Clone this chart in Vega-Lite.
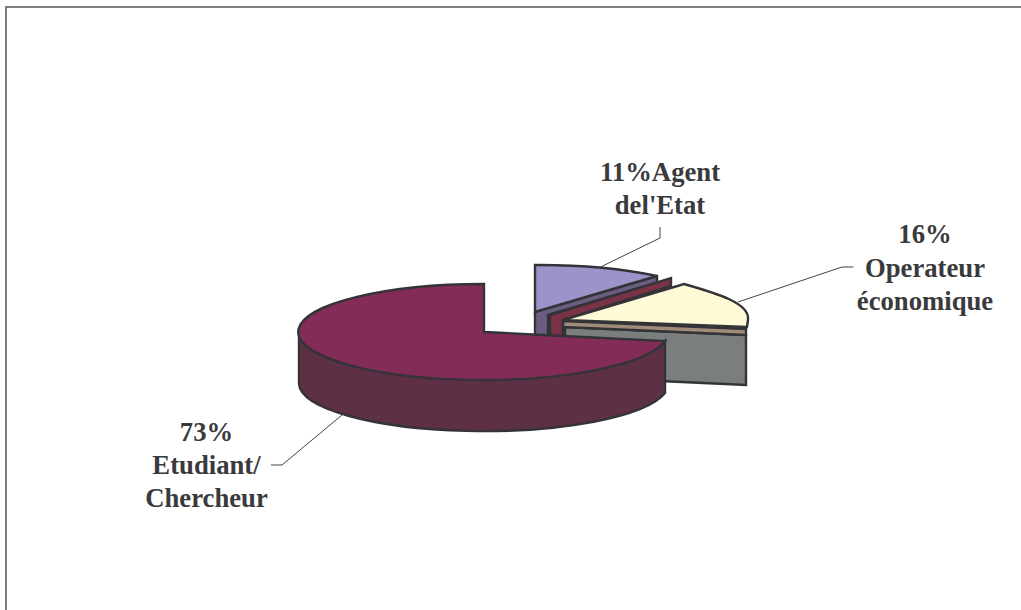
{
"$schema":"https://vega.github.io/schema/vega-lite/v6.json",
"width":1021,"height":610,"padding":0,
"autosize":"none",
"background":"white",
"config":{"view":{"stroke":null}},
"data":{"values":[
{"category":"Agent de l'Etat","share":11,"label":"11%Agent\ndel'Etat"},
{"category":"Operateur économique","share":16,"label":"16%\nOperateur\néconomique"},
{"category":"Etudiant/Chercheur","share":73,"label":"73%\nEtudiant/\nChercheur"}
]},
"resolve":{"scale":{"shape":"independent","color":"independent"}},
"layer":[
{"data":{"values":[{"part":"frame"}]},
 "mark":{"type":"point","filled":false,"opacity":1,"size":4,"stroke":"#555558","strokeWidth":1.5,"shape":"M 510.5 -298 L -504.5 -298 L -504.5 305"},
 "encoding":{}},
{"mark":{"type":"point","filled":true,"opacity":1,"size":4,"stroke":"#333338","strokeWidth":2.4},
 "encoding":{
  "shape":{"field":"category","type":"nominal","legend":null,"scale":{"domain":["Agent de l'Etat","Operateur économique","Etudiant/Chercheur"],"range":[
   "M 24.5 7 L 146.5 -29 L 146.5 -22 L 37.5 10 L 37.5 31 L 24.5 31 Z",
   "M 54.5 22 L 235.5 30 L 235.5 80 L 149.5 76 L 54.5 76 Z",
   "M -211.5 27 A 185 48 0 0 0 154.5 36 L 154.5 88 A 185 48 0 0 1 -211.5 79 Z"]}},
  "color":{"field":"category","type":"nominal","legend":null,"scale":{"domain":["Agent de l'Etat","Operateur économique","Etudiant/Chercheur"],"range":["#6a5e80","#7a7f7e","#5e3045"]}}
 }},
{"transform":[{"filter":"datum.share != 11"}],
 "mark":{"type":"point","filled":true,"opacity":1,"size":4,"stroke":"#333338","strokeWidth":2.4},
 "encoding":{
  "shape":{"field":"category","type":"nominal","legend":null,"scale":{"domain":["Operateur économique","Etudiant/Chercheur"],"range":[
   "M 52.5 16 L 235.5 24 L 235.5 30 L 52.5 22 Z",
   "M 39.5 10 L 160.5 -27 L 160.5 -19 L 52.5 15 L 52.5 31 L 39.5 31 Z"]}},
  "color":{"field":"category","type":"nominal","legend":null,"scale":{"domain":["Operateur économique","Etudiant/Chercheur"],"range":["#a08c78","#7a3346"]}}
 }},
{"mark":{"type":"point","filled":true,"opacity":1,"size":4,"stroke":"#333338","strokeWidth":2.4},
 "encoding":{
  "shape":{"field":"category","type":"nominal","legend":null,"scale":{"domain":["Agent de l'Etat","Operateur économique","Etudiant/Chercheur"],"range":[
   "M 24.5 -40 A 185 48 0 0 1 146.5 -29 L 24.5 7 Z",
   "M 52.5 15 L 173.5 -21 C 205 -12 240 -2 237.5 15 L 236.5 22 Z",
   "M -26.5 27 L -26.5 -21 A 185 48 0 1 0 154.5 36 Z"]}},
  "color":{"field":"category","type":"nominal","legend":null,"scale":{"domain":["Agent de l'Etat","Operateur économique","Etudiant/Chercheur"],"range":["#9b93c9","#fffbd6","#832c57"]}}
 }},
{"mark":{"type":"point","filled":false,"opacity":1,"size":4,"stroke":"#444448","strokeWidth":1},
 "encoding":{
  "shape":{"field":"category","type":"nominal","legend":null,"scale":{"domain":["Agent de l'Etat","Operateur économique","Etudiant/Chercheur"],"range":[
   "M 90 -38 L 149.5 -67 L 149.5 -78",
   "M 227.5 -3 L 331.5 -38 L 343 -38",
   "M -168.5 110 L -228.5 160 L -239.5 160"]}}
 }},
{"transform":[{"filter":"datum.share == 11"}],
 "mark":{"type":"text","font":"Liberation Serif","fontWeight":"bold","fontSize":26.7,"lineHeight":33,"lineBreak":"\n","align":"center","baseline":"alphabetic","color":"#3a3a3c","dx":149.5,"dy":-124},
 "encoding":{"text":{"field":"label"}}},
{"transform":[{"filter":"datum.share == 16"}],
 "mark":{"type":"text","font":"Liberation Serif","fontWeight":"bold","fontSize":26.7,"lineHeight":33.5,"lineBreak":"\n","align":"center","baseline":"alphabetic","color":"#3a3a3c","dx":414.5,"dy":-62},
 "encoding":{"text":{"field":"label"}}},
{"transform":[{"filter":"datum.share == 73"}],
 "mark":{"type":"text","font":"Liberation Serif","fontWeight":"bold","fontSize":26.7,"lineHeight":33,"lineBreak":"\n","align":"center","baseline":"alphabetic","color":"#3a3a3c","dx":-304,"dy":136},
 "encoding":{"text":{"field":"label"}}}
]
}
